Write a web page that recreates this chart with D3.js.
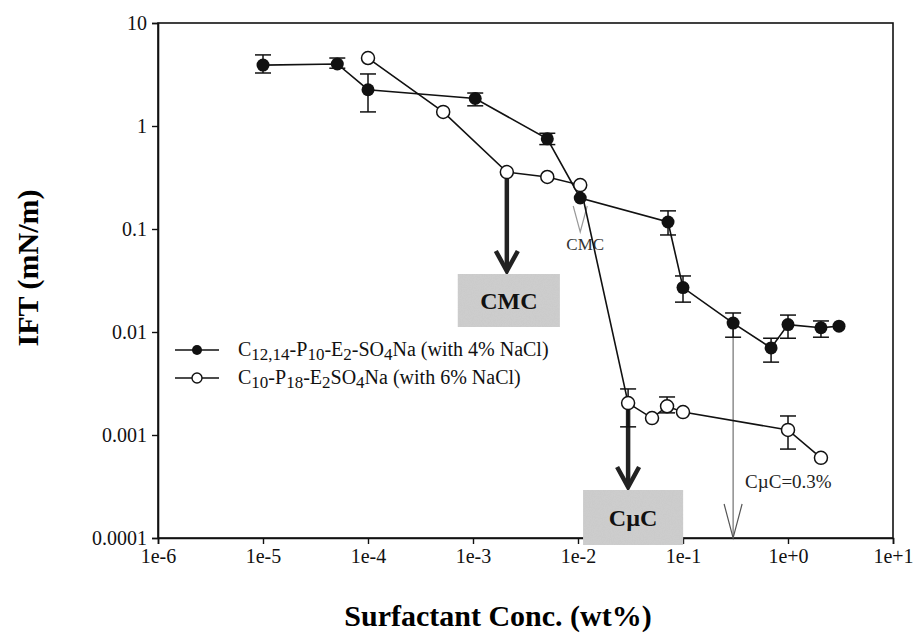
<!DOCTYPE html>
<html>
<head>
<meta charset="utf-8">
<script src="https://cdn.jsdelivr.net/npm/d3@7"></script>
<style>
  body { margin: 0; background: #fff; }
  svg text { font-family: "Liberation Serif", "Times New Roman", serif; }
</style>
</head>
<body>
<div id="wrapper"></div>
<script>
// C12,14-P10-E2-SO4Na (with 4% NaCl) -- filled circles
const concA = [1e-5, 5.1e-5, 1e-4, 1.05e-3, 5.1e-3, 0.0105, 0.072, 0.1, 0.3, 0.69, 1.0, 2.06, 3.06];
const iftA  = [3.9, 4.0, 2.25, 1.85, 0.75, 0.2, 0.117, 0.027, 0.0122, 0.007, 0.0118, 0.011, 0.0114];
const errLoA = [3.27, 3.64, 1.37, 1.57, 0.66, null, 0.0875, 0.0195, 0.0089, 0.0051, 0.0087, 0.0089, null];
const errHiA = [4.9, 4.57, 3.2, 2.09, 0.85, null, 0.15, 0.035, 0.0153, 0.0087, 0.0146, 0.0128, null];

// C10-P18-E2SO4Na (with 6% NaCl) -- open circles
const concB = [1e-4, 5.2e-4, 2.1e-3, 5.1e-3, 0.0105, 0.03, 0.0507, 0.0705, 0.1, 1.0, 2.06];
const iftB  = [4.57, 1.37, 0.357, 0.32, 0.267, 0.00204, 0.00146, 0.0019, 0.00167, 0.00112, 0.0006];
const errLoB = [null, null, null, null, null, 0.0012, null, 0.00164, null, 0.00073, null];
const errHiB = [null, null, null, null, null, 0.0028, null, 0.00234, null, 0.00153, null];

const xTicks = [1e-6, 1e-5, 1e-4, 1e-3, 1e-2, 1e-1, 1, 10];
const xTickLabels = ["1e-6", "1e-5", "1e-4", "1e-3", "1e-2", "1e-1", "1e+0", "1e+1"];
const yTicks = [10, 1, 0.1, 0.01, 0.001, 0.0001];
const yTickLabels = ["10", "1", "0.1", "0.01", "0.001", "0.0001"];

const dim = {
    width: 918,
    height: 637,
    margin: { top: 23, left: 158, bottom: 99, right: 25 }
};
dim.boundedWidth = dim.width - dim.margin.left - dim.margin.right;
dim.boundedHeight = dim.height - dim.margin.top - dim.margin.bottom;

const svg = d3.select("#wrapper").append("svg")
    .attr("width", dim.width)
    .attr("height", dim.height);

const xScale = d3.scaleLog().domain([1e-6, 10]).range([0, dim.boundedWidth]);
const yScale = d3.scaleLog().domain([0.0001, 10]).range([dim.boundedHeight, 0]);

const g = svg.append("g")
    .attr("transform", `translate(${dim.margin.left},${dim.margin.top})`);

// frame
g.append("rect")
    .attr("width", dim.boundedWidth)
    .attr("height", dim.boundedHeight)
    .attr("fill", "none")
    .attr("stroke", "#111")
    .attr("stroke-width", 1.6);

// axes
const xAxis = d3.axisBottom(xScale).tickValues(xTicks)
    .tickFormat((d, i) => xTickLabels[i]).tickSize(6).tickPadding(5);
const yAxis = d3.axisLeft(yScale).tickValues(yTicks)
    .tickFormat((d, i) => yTickLabels[i]).tickSize(6).tickPadding(5);

const gx = g.append("g").attr("transform", `translate(0,${dim.boundedHeight})`).call(xAxis);
const gy = g.append("g").call(yAxis);
[gx, gy].forEach(a => {
    a.attr("font-family", null).attr("font-size", null);
    a.select(".domain").attr("stroke", "#111").attr("stroke-width", 1.6);
    a.selectAll(".tick line").attr("stroke", "#111").attr("stroke-width", 1.4);
    a.selectAll(".tick text")
        .attr("fill", "#111")
        .style("font-size", "20px");
});

// axis titles
svg.append("text")
    .attr("x", 498).attr("y", 626)
    .attr("text-anchor", "middle")
    .style("font-size", "30px").style("font-weight", "bold")
    .text("Surfactant Conc. (wt%)");
svg.append("text")
    .attr("transform", "rotate(-90)")
    .attr("x", -268).attr("y", 38)
    .attr("text-anchor", "middle")
    .style("font-size", "30px").style("font-weight", "bold")
    .text("IFT (mN/m)");

const line = d3.line().x(d => xScale(d[0])).y(d => yScale(d[1]));
const seriesA = concA.map((c, i) => [c, iftA[i], errLoA[i], errHiA[i]]);
const seriesB = concB.map((c, i) => [c, iftB[i], errLoB[i], errHiB[i]]);

// grainy grey for the label boxes
const defs = svg.append("defs");
const flt = defs.append("filter").attr("id", "grain").attr("x", 0).attr("y", 0).attr("width", 1).attr("height", 1);
flt.append("feTurbulence").attr("type", "fractalNoise").attr("baseFrequency", 0.9).attr("numOctaves", 2).attr("result", "n");
flt.append("feColorMatrix").attr("in", "n").attr("type", "matrix")
    .attr("values", "0 0 0 0 0.62  0 0 0 0 0.62  0 0 0 0 0.62  0 0 0 -1.4 1.1").attr("result", "dots");
flt.append("feComposite").attr("in", "dots").attr("in2", "SourceGraphic").attr("operator", "in").attr("result", "d2");
flt.append("feMerge").selectAll("feMergeNode").data(["SourceGraphic", "d2"]).join("feMergeNode").attr("in", d => d);

// thin vertical line at CuC = 0.3%
const xC = xScale(0.3);
g.append("line")
    .attr("x1", xC).attr("x2", xC)
    .attr("y1", yScale(0.0122)).attr("y2", dim.boundedHeight)
    .attr("stroke", "#555").attr("stroke-width", 1);
g.append("path")
    .attr("d", `M${xC - 9},${dim.boundedHeight - 34}L${xC},${dim.boundedHeight}L${xC + 9},${dim.boundedHeight - 34}`)
    .attr("fill", "none").attr("stroke", "#555").attr("stroke-width", 1.2);
g.append("text")
    .attr("x", xC + 12).attr("y", 465)
    .style("font-size", "19px").attr("fill", "#222")
    .text("C\u00b5C=0.3%");

// small CMC arrow
const xS = xScale(0.0105);
g.append("path")
    .attr("d", `M${xS - 7},${yScale(0.2) + 8}L${xS},${yScale(0.2) + 34}L${xS + 7},${yScale(0.2) + 8}`)
    .attr("fill", "none").attr("stroke", "#999").attr("stroke-width", 1.2);
g.append("text")
    .attr("x", xS + 5).attr("y", yScale(0.2) + 52)
    .attr("text-anchor", "middle")
    .style("font-size", "17px").attr("fill", "#333")
    .text("CMC");

// bold arrows with grey boxes
function bigArrow(cx, yFrom, yTo) {
    g.append("line")
        .attr("x1", cx).attr("x2", cx)
        .attr("y1", yFrom).attr("y2", yTo - 2)
        .attr("stroke", "#222").attr("stroke-width", 4.5);
    g.append("path")
        .attr("d", `M${cx - 11},${yTo - 20}L${cx},${yTo}L${cx + 11},${yTo - 20}`)
        .attr("fill", "none").attr("stroke", "#222").attr("stroke-width", 4.5)
        .attr("stroke-linejoin", "miter");
}
function greyBox(x0, y0, w, h, label) {
    g.append("rect")
        .attr("x", x0).attr("y", y0).attr("width", w).attr("height", h)
        .attr("fill", "#cbcbcb").attr("filter", "url(#grain)");
    g.append("text")
        .attr("x", x0 + w / 2).attr("y", y0 + h / 2 + 8)
        .attr("text-anchor", "middle")
        .style("font-size", "24px").style("font-weight", "bold").attr("fill", "#111")
        .text(label);
}
const xCmc = xScale(2.1e-3);
bigArrow(xCmc, yScale(0.357) + 6, 248);
greyBox(xCmc - 49, 251, 102, 53, "CMC");

const xCuc = xScale(0.03);
bigArrow(xCuc, yScale(0.00204) + 6, 464);
greyBox(xCuc - 45, 467, 100, 55, "C\u00b5C");

// data lines
[seriesA, seriesB].forEach(s => {
    g.append("path")
        .attr("d", line(s))
        .attr("fill", "none")
        .attr("stroke", "#111")
        .attr("stroke-width", 1.6);
});

// error bars
[seriesA, seriesB].forEach(s => {
    s.filter(d => d[2] != null).forEach(d => {
        const cx = xScale(d[0]);
        const y1 = yScale(d[2]), y2 = yScale(d[3]);
        g.append("line").attr("x1", cx).attr("x2", cx).attr("y1", y1).attr("y2", y2)
            .attr("stroke", "#111").attr("stroke-width", 1.5);
        [y1, y2].forEach(yy => g.append("line")
            .attr("x1", cx - 8).attr("x2", cx + 8).attr("y1", yy).attr("y2", yy)
            .attr("stroke", "#111").attr("stroke-width", 1.5));
    });
});

// markers
g.selectAll(".ptA").data(seriesA).join("circle")
    .attr("cx", d => xScale(d[0])).attr("cy", d => yScale(d[1]))
    .attr("r", 6.5).attr("fill", "#111");
g.selectAll(".ptB").data(seriesB).join("circle")
    .attr("cx", d => xScale(d[0])).attr("cy", d => yScale(d[1]))
    .attr("r", 6.5).attr("fill", "#fff").attr("stroke", "#111").attr("stroke-width", 1.5);

// legend
const leg = svg.append("g").attr("transform", "translate(175,350)");
leg.append("line").attr("x1", 0).attr("x2", 44).attr("y1", 0).attr("y2", 0)
    .attr("stroke", "#111").attr("stroke-width", 1.5);
leg.append("circle").attr("cx", 22).attr("cy", 0).attr("r", 5).attr("fill", "#111");
leg.append("line").attr("x1", 0).attr("x2", 44).attr("y1", 28).attr("y2", 28)
    .attr("stroke", "#111").attr("stroke-width", 1.5);
leg.append("circle").attr("cx", 22).attr("cy", 28).attr("r", 5)
    .attr("fill", "#fff").attr("stroke", "#111").attr("stroke-width", 1.4);

function legText(y, parts) {
    const t = leg.append("text").attr("x", 63).attr("y", y + 6)
        .style("font-size", "20px").attr("fill", "#111");
    let low = false;
    parts.forEach(p => {
        const sub = !!p[1];
        const ts = t.append("tspan").text(p[0]);
        ts.attr("dy", sub === low ? 0 : (sub ? 4 : -4));
        if (sub) ts.style("font-size", "17px");
        low = sub;
    });
}
legText(0, [["C"], ["12,14", 1], ["-P"], ["10", 1], ["-E"], ["2", 1], ["-SO"], ["4", 1], ["Na (with 4% NaCl)"]]);
legText(28, [["C"], ["10", 1], ["-P"], ["18", 1], ["-E"], ["2", 1], ["SO"], ["4", 1], ["Na (with 6% NaCl)"]]);
</script>
</body>
</html>
